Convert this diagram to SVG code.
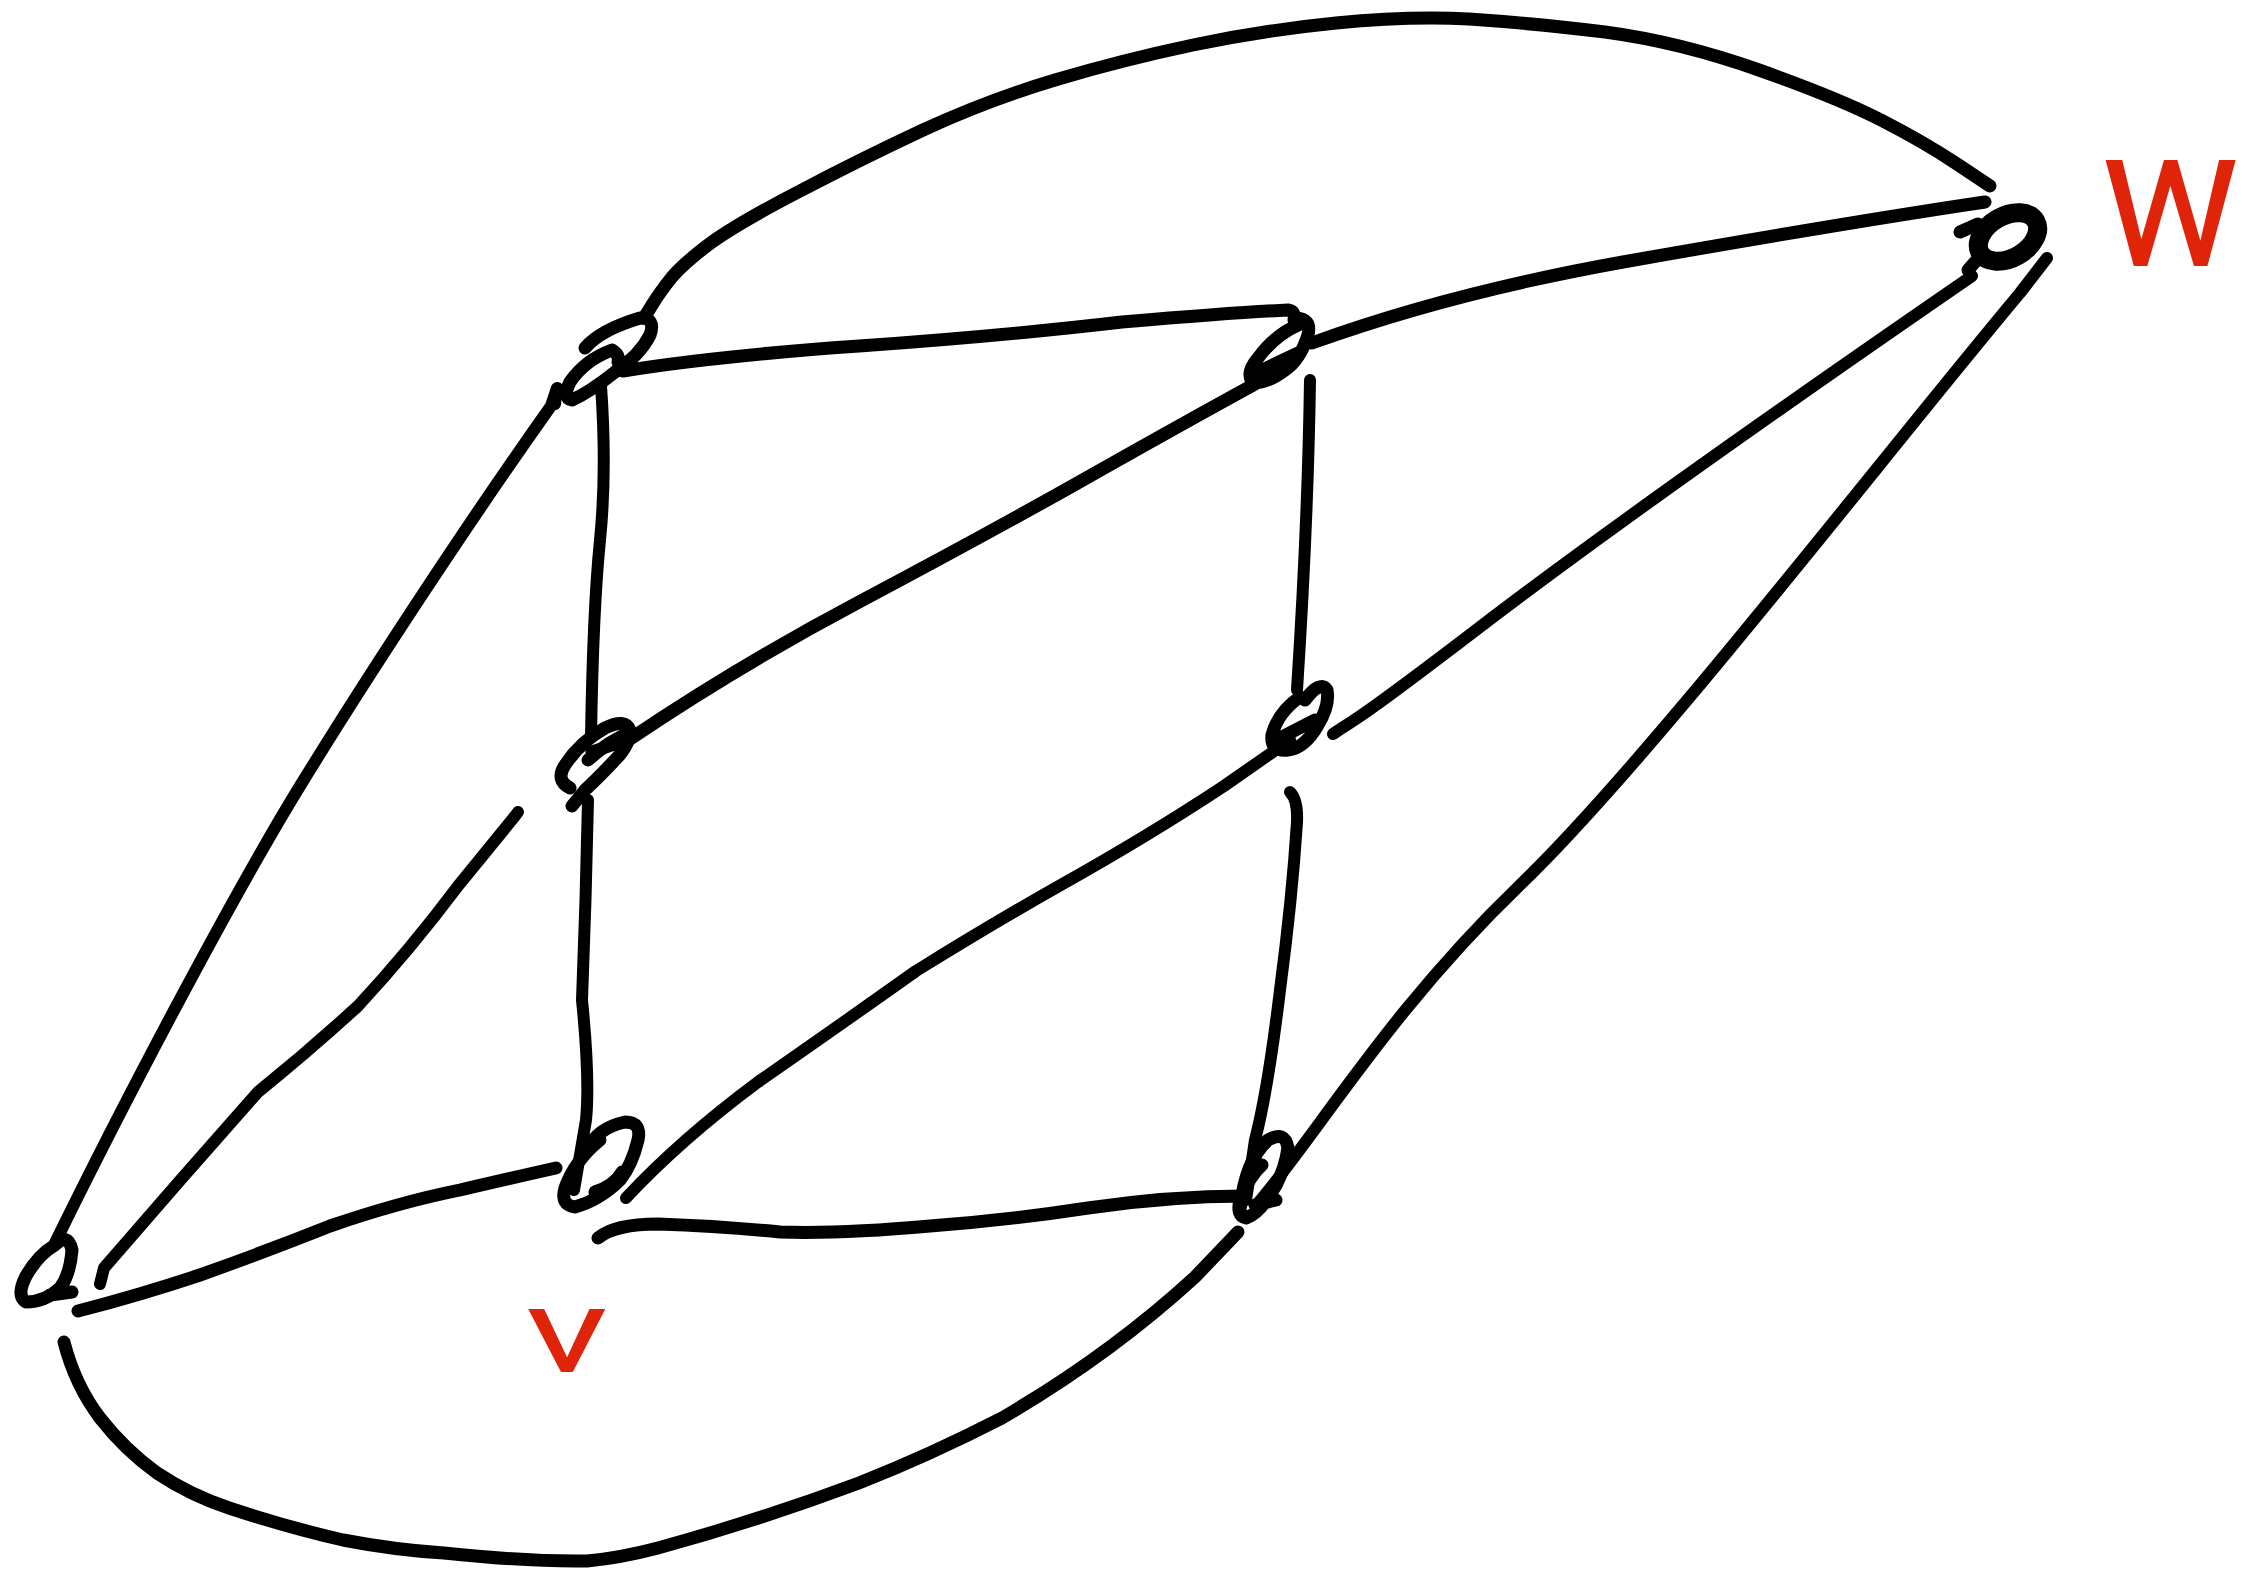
<svg xmlns="http://www.w3.org/2000/svg" width="2244" height="1572" viewBox="0 0 2244 1572">
<style>
.e{fill:none;stroke:#000;stroke-width:12;stroke-linecap:round;stroke-linejoin:round}
.t{stroke-width:13}
.n{fill:none;stroke:#000;stroke-width:13;stroke-linecap:round;stroke-linejoin:round}
.lbl{fill:#e0240a;font-family:Roboto,"Liberation Sans",sans-serif;font-weight:400;text-anchor:middle}
</style>
<rect width="2244" height="1572" fill="#fff"/>
<g id="connectors">
<path id="e-tl-tr" class="e t" d="M 644 318 L 652 305 Q 660 292 672 277 Q 685 262 712 242 Q 740 222 800 191 Q 859 160 923 130 Q 988 100 1055 80 Q 1122 60 1193 45 Q 1265 30 1336 23 Q 1408 16 1469 19 Q 1530 23 1605 32 Q 1680 42 1759 70 Q 1838 98 1881 120 Q 1924 142 1957 164 L 1990 186"/>
<path id="e-tl-tm" class="e t" d="M 623 371 Q 716 356 859 346 T 1122 322 Q 1240 312 1288 310 Q 1296 311 1294 320"/>
<path id="e-tm-tr" class="e t" d="M 1312 343 Q 1450 293 1623 262 Q 1850 222 1985 202"/>
<path id="e-tl-ml" class="e" d="M 601 386 Q 607 470 600 540 T 591 737"/>
<path id="e-tm-mm" class="e" d="M 1310 380 Q 1308 520 1297 690"/>
<path id="e-tr-mm" class="e" d="M 1972 276 C 1850 360 1620 520 1480 627 S 1360 715 1333 734"/>
<path id="e-tr-bm" class="e" d="M 2047 258 L 2020 293 C 1880 460 1650 760 1520 885 S 1320 1130 1259 1202"/>
<path id="e-ml-tm" class="e t" d="M 630 739 Q 740 665 859 602 T 1074 485 Q 1180 425 1255 384"/>
<path id="e-mm-bm" class="e" d="M 1290 792 Q 1298 800 1297 822 Q 1292 900 1280 990 Q 1268 1090 1255 1140 L 1246 1200"/>
<path id="e-ml-bml" class="e" d="M 588 800 Q 586 900 582 1000 Q 590 1080 586 1120 L 574 1190"/>
<path id="e-bml-mm" class="e" d="M 626 1198 Q 680 1140 758 1082 Q 840 1025 916 971 Q 990 925 1059 886 Q 1150 835 1224 786 L 1290 740"/>
<path id="e-bl-tl" class="e" d="M 55 1243 C 120 1110 230 900 300 786 S 470 520 551 406 L 557 388 L 555 404"/>
<path id="e-bl-ml" class="e" d="M 100 1284 L 104 1268 Q 180 1180 258 1092 Q 310 1050 358 1006 Q 410 950 458 886 L 515 816 L 518 812"/>
<path id="e-bl-bml" class="e t" d="M 78 1311 Q 140 1295 200 1275 Q 270 1250 330 1226 Q 400 1202 460 1190 Q 520 1176 556 1168"/>
<path id="e-bml-bm" class="e t" d="M 598 1238 Q 615 1224 658 1224 Q 720 1226 780 1232 Q 840 1234 930 1226 Q 1010 1220 1088 1208 Q 1170 1196 1245 1196"/>
<path id="e-bl-bm" class="e t" d="M 64 1342 Q 75 1385 100 1418 Q 125 1450 157 1473 Q 190 1495 229 1508 Q 290 1528 343 1540 Q 395 1550 444 1553 Q 530 1562 587 1561 Q 620 1558 658 1548 Q 760 1520 859 1483 Q 930 1455 1002 1418 Q 1110 1355 1195 1277 L 1238 1232"/>
</g>
<g id="node-tl"><path class="n" d="M 585 348 Q 600 330 640 318 Q 656 318 650 335 Q 640 355 615 372 Q 590 392 572 400 Q 562 398 570 382 Q 585 360 612 350 Q 620 355 618 362"/></g>
<g id="node-tm"><path class="n" d="M 1295 318 Q 1312 318 1308 335 Q 1300 360 1285 370 Q 1265 385 1252 382 Q 1246 372 1258 358 Q 1275 335 1298 325 M 1258 372 L 1300 352"/></g>
<g id="node-tr"><ellipse cx="2008" cy="237" rx="32" ry="21" transform="rotate(-30 2008 237)" fill="none" stroke="#000" stroke-width="19"/><path class="n" d="M 1960 232 L 1978 224 M 1968 270 L 1975 262"/></g>
<g id="node-ml"><path class="n" d="M 570 788 Q 555 780 565 765 Q 580 742 605 728 Q 625 718 630 730 Q 630 745 615 760 Q 598 778 585 790 L 572 806 M 588 760 Q 610 740 630 733 M 592 752 L 620 742"/></g>
<g id="node-mm"><path class="n" d="M 1305 700 Q 1320 680 1327 690 Q 1330 705 1318 725 Q 1305 748 1288 750 Q 1270 752 1272 735 Q 1278 712 1300 697 M 1280 738 L 1315 720"/></g>
<g id="node-bml"><path class="n" d="M 587 1150 Q 597 1128 625 1122 Q 642 1122 638 1140 Q 632 1165 620 1180 Q 600 1200 575 1207 Q 560 1205 565 1188 Q 575 1160 600 1140 M 595 1192 Q 615 1185 622 1172"/></g>
<g id="node-bm"><path class="n" d="M 1240 1210 Q 1245 1160 1268 1140 Q 1285 1130 1288 1148 Q 1284 1175 1270 1195 Q 1258 1214 1246 1218 Q 1236 1216 1240 1200 Q 1250 1175 1262 1165 M 1255 1205 L 1276 1200"/></g>
<g id="node-bl"><path class="n" d="M 55 1245 Q 68 1232 72 1250 Q 70 1275 60 1288 Q 45 1302 26 1302 Q 16 1296 26 1276 Q 38 1255 55 1245 M 50 1295 L 72 1292"/></g>
<g id="label-w"><text class="lbl" x="0" y="0" font-size="200" transform="translate(2171,266) scale(0.92,1)">w</text></g>
<g id="label-v"><text class="lbl" x="0" y="0" font-size="118" transform="translate(567,1372) scale(1.45,1)">v</text></g>
</svg>
